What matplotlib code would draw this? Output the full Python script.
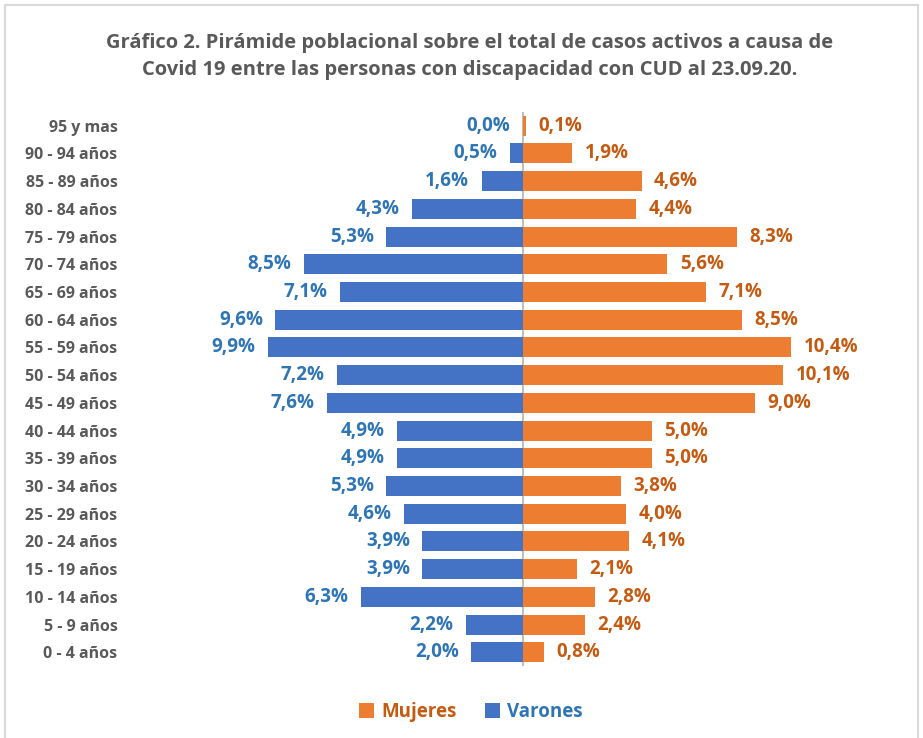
import matplotlib.pyplot as plt
import numpy as np
from matplotlib.patches import Rectangle

plt.rcParams['font.family'] = ['Open Sans', 'DejaVu Sans']

# grupos de edad (de abajo hacia arriba)
grupos = ['0 - 4 años', '5 - 9 años', '10 - 14 años', '15 - 19 años', '20 - 24 años',
          '25 - 29 años', '30 - 34 años', '35 - 39 años', '40 - 44 años', '45 - 49 años',
          '50 - 54 años', '55 - 59 años', '60 - 64 años', '65 - 69 años', '70 - 74 años',
          '75 - 79 años', '80 - 84 años', '85 - 89 años', '90 - 94 años', '95 y mas']
varones = [2.0, 2.2, 6.3, 3.9, 3.9, 4.6, 5.3, 4.9, 4.9, 7.6,
           7.2, 9.9, 9.6, 7.1, 8.5, 5.3, 4.3, 1.6, 0.5, 0.0]
mujeres = [0.8, 2.4, 2.8, 2.1, 4.1, 4.0, 3.8, 5.0, 5.0, 9.0,
           10.1, 10.4, 8.5, 7.1, 5.6, 8.3, 4.4, 4.6, 1.9, 0.1]

AZUL = '#4472C4'
NARANJA = '#ED7D31'
AZUL_TXT = '#2E75B6'
NARANJA_TXT = '#C55A11'
GRIS = '#595959'

fig = plt.figure(figsize=(9.23, 7.38), dpi=100)
fig.patches.append(Rectangle((5 / 923, -0.01), 913 / 923, 1 - 5 / 738 + 0.01,
                             transform=fig.transFigure, fill=False,
                             edgecolor='#D9D9D9', linewidth=1.5))

ax = fig.add_axes([0.1755, 0.0973, 0.7822, 0.7512])
y = np.arange(len(grupos))
ax.barh(y, mujeres, height=0.72, color=NARANJA, label='Mujeres')
ax.barh(y, [-v for v in varones], height=0.72, color=AZUL, label='Varones')
ax.axvline(0, color='#BFBFBF', linewidth=1.5, zorder=0)

ax.set_xlim(-14, 14)
ax.set_ylim(-0.5, len(grupos) - 0.5)
ax.set_yticks(y)
ax.set_yticklabels(grupos, fontsize=11.5, fontweight='bold', color=GRIS)
ax.tick_params(axis='y', length=0, pad=32)
ax.set_xticks([])
for s in ax.spines.values():
    s.set_visible(False)

for i in range(len(grupos)):
    ax.annotate(f'{varones[i]:.1f}%'.replace('.', ','), xy=(-varones[i], i),
                xytext=(-9, 0), textcoords='offset points', ha='right', va='center',
                fontsize=13.5, fontweight='bold', color=AZUL_TXT)
    ax.annotate(f'{mujeres[i]:.1f}%'.replace('.', ','), xy=(mujeres[i], i),
                xytext=(9, 0), textcoords='offset points', ha='left', va='center',
                fontsize=13.5, fontweight='bold', color=NARANJA_TXT)

fig.text(0.509, 0.923, 'Gráfico 2. Pirámide poblacional sobre el total de casos activos a causa de\n'
         'Covid 19 entre las personas con discapacidad con CUD al 23.09.20.',
         ha='center', va='center', fontsize=14.5, fontweight='bold', color=GRIS,
         linespacing=1.45)

leg = fig.legend(loc='center', bbox_to_anchor=(0.51, 0.035), ncol=2, frameon=False,
                 handlelength=0.8, handleheight=0.8, handletextpad=0.4, columnspacing=1.5,
                 prop={'size': 13.5, 'weight': 'bold'}, labelcolor=[NARANJA_TXT, AZUL_TXT])

plt.savefig('out.png', dpi=100)
